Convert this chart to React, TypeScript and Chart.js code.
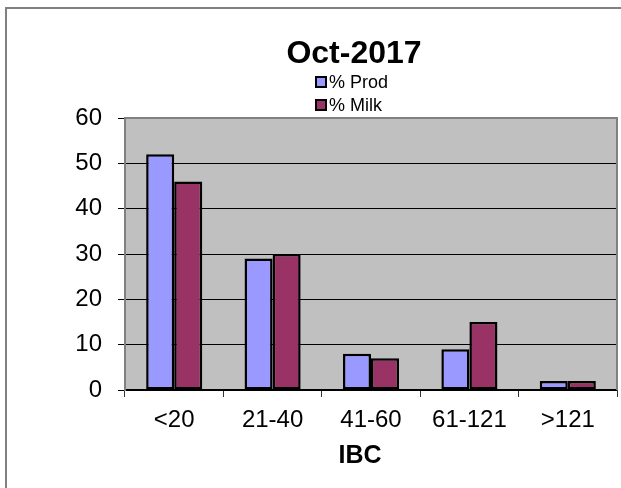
import React, { useEffect, useRef } from "react";
import { Chart, registerables } from "chart.js";

Chart.register(...registerables);

const categories = ["<20", "21-40", "41-60", "61-121", ">121"];
const prodValues = [52, 29, 8, 9, 2];
const milkValues = [46, 30, 7, 15, 2];
const seriesLabels = ["% Prod", "% Milk"];
const chartTitle = "Oct-2017";
const xAxisTitle = "IBC";

const FONT = 'Arial, "Liberation Sans", sans-serif';

const decorPlugin = {
  id: "decor",
  beforeDraw(chart: any) {
    const { ctx, chartArea } = chart;
    ctx.save();
    ctx.fillStyle = "#ffffff";
    ctx.fillRect(0, 0, chart.width, chart.height);
    // outer frame
    ctx.fillStyle = "#808080";
    ctx.fillRect(5, 7, 2, chart.height - 7);
    ctx.fillRect(5, 7, chart.width - 5, 2);
    // plot background
    ctx.fillStyle = "#C0C0C0";
    ctx.fillRect(chartArea.left, chartArea.top, chartArea.right - chartArea.left, chartArea.bottom - chartArea.top);
    ctx.restore();
  },
  afterDatasetsDraw(chart: any) {
    const { ctx, chartArea } = chart;
    ctx.save();
    ctx.strokeStyle = "#808080";
    ctx.lineWidth = 2;
    ctx.beginPath();
    ctx.moveTo(chartArea.left, chartArea.bottom);
    ctx.lineTo(chartArea.left, chartArea.top);
    ctx.lineTo(chartArea.right, chartArea.top);
    ctx.lineTo(chartArea.right, chartArea.bottom);
    ctx.stroke();
    ctx.restore();
  },
  afterDraw(chart: any) {
    const { ctx } = chart;
    ctx.save();
    // title
    ctx.fillStyle = "#000";
    ctx.font = `bold 32px ${FONT}`;
    ctx.textAlign = "center";
    ctx.textBaseline = "alphabetic";
    ctx.fillText(chartTitle, 354, 63);
    // legend
    ctx.font = `18px ${FONT}`;
    ctx.textAlign = "left";
    const rows = [82, 105];
    chart.data.datasets.forEach((ds: any, i: number) => {
      const cy = rows[i];
      ctx.fillStyle = ds.backgroundColor;
      ctx.fillRect(316, cy - 5, 10, 10);
      ctx.strokeStyle = "#000";
      ctx.lineWidth = 2;
      ctx.strokeRect(316, cy - 5, 10, 10);
      ctx.fillStyle = "#000";
      ctx.textBaseline = "middle";
      ctx.fillText(ds.label, 329, cy + 1);
    });
    // x axis title
    ctx.font = `bold 25px ${FONT}`;
    ctx.textAlign = "center";
    ctx.textBaseline = "alphabetic";
    ctx.fillText(xAxisTitle, 360, 463);
    ctx.restore();
  },
};

export default function App() {
  const ref = useRef<HTMLCanvasElement>(null);
  useEffect(() => {
    if (!ref.current) return;
    const chart = new Chart(ref.current, {
      type: "bar",
      data: {
        labels: categories,
        datasets: [
          {
            label: seriesLabels[0],
            data: prodValues,
            backgroundColor: "#9999FF",
            borderColor: "#000000",
            borderWidth: 2.5,
            borderSkipped: false,
            categoryPercentage: 0.57,
            barPercentage: 1,
          },
          {
            label: seriesLabels[1],
            data: milkValues,
            backgroundColor: "#993366",
            borderColor: "#000000",
            borderWidth: 2.5,
            borderSkipped: false,
            categoryPercentage: 0.57,
            barPercentage: 1,
          },
        ],
      },
      options: {
        responsive: false,
        animation: false,
        devicePixelRatio: 1,
        layout: { padding: { top: 118, right: 4, left: 0, bottom: 0 } },
        plugins: {
          legend: { display: false },
          title: { display: false },
          tooltip: { enabled: false },
        },
        scales: {
          x: {
            afterFit: (s: any) => {
              s.height = 98;
            },
            grid: {
              offset: true,
              drawOnChartArea: false,
              drawTicks: true,
              tickLength: 7,
              color: "#333333",
              lineWidth: 1,
            },
            border: { display: true, color: "#000000", width: 1.5 },
            ticks: {
              color: "#000",
              font: { family: FONT, size: 24 },
              padding: 9,
              maxRotation: 0,
              autoSkip: false,
            },
          },
          y: {
            min: 0,
            max: 60,
            afterFit: (s: any) => {
              s.width = 125;
            },
            grid: {
              drawOnChartArea: true,
              drawTicks: true,
              tickLength: 7,
              color: "#000000",
              lineWidth: 1,
            },
            border: { display: true, color: "#808080", width: 2 },
            ticks: {
              stepSize: 10,
              color: "#000",
              font: { family: FONT, size: 24 },
              padding: 16,
            },
          },
        },
      },
      plugins: [decorPlugin],
    });
    return () => chart.destroy();
  }, []);
  return (
    <div style={{ position: "absolute", left: 0, top: 0, width: 621, height: 488 }}>
      <canvas ref={ref} width={621} height={488} style={{ display: "block" }} />
    </div>
  );
}
